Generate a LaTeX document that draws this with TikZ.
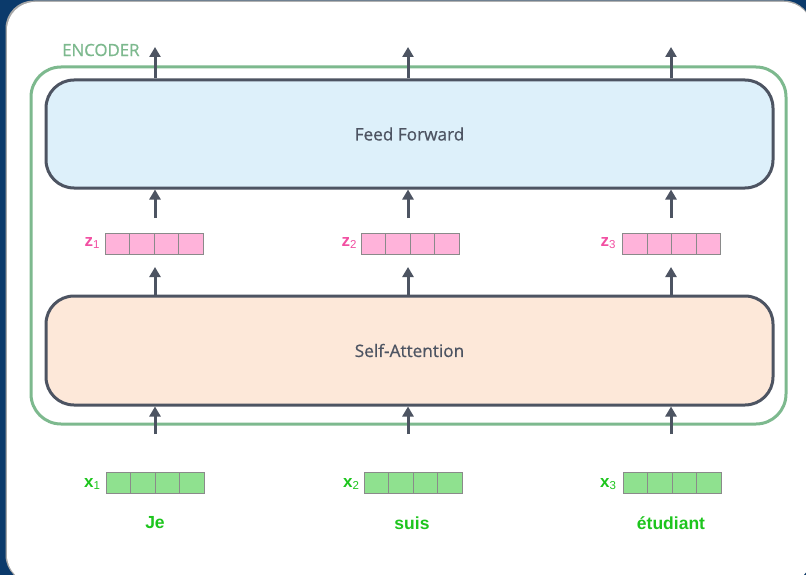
\documentclass[tikz,border=0pt]{standalone}
\usepackage{fontspec}
\setmainfont{Open Sans}
\newfontfamily\boxfont[FakeBold=0.7]{Open Sans}
\newfontfamily\labelfont{Liberation Sans}
\usetikzlibrary{arrows.meta}

\definecolor{frameblue}{HTML}{0B3A6B}
\definecolor{encgreen}{HTML}{7DB98E}
\definecolor{boxgray}{HTML}{4D5462}
\definecolor{ffblue}{HTML}{DDF0FA}
\definecolor{sapeach}{HTML}{FDE8D9}
\definecolor{zpink}{HTML}{FFB3DA}
\definecolor{ztext}{HTML}{F24FA2}
\definecolor{xgreen}{HTML}{8FE18F}
\definecolor{xtext}{HTML}{1DC51D}
\definecolor{cellline}{HTML}{8A8A8A}

\tikzset{
  bigbox/.style={draw=boxgray, line width=3pt, rounded corners=28pt,
    minimum width=727pt, inner sep=0pt, text=boxgray,
    font=\boxfont\fontsize{17.2}{20}\selectfont},
  cell/.style={draw=cellline, line width=0.8pt, minimum width=24.5pt,
    minimum height=21pt, inner sep=0pt, outer sep=0pt},
  zcell/.style={cell, fill=zpink},
  xcell/.style={cell, fill=xgreen},
  veclabel/.style={font=\labelfont\bfseries\fontsize{17}{17}\selectfont, inner sep=0pt},
  word/.style={text=xtext, font=\labelfont\bfseries\fontsize{17.5}{20}\selectfont, inner sep=0pt},
  arr/.style={draw=boxgray, line width=3pt,
    -{Triangle[length=10pt,width=11pt]}},
}
\newcommand{\vsub}[1]{\raisebox{-2.5pt}{\labelfont\mdseries\fontsize{11.5}{11.5}\selectfont #1}}

\begin{document}
\begin{tikzpicture}[x=1pt,y=-1pt]
  % page frame
  \fill[frameblue] (0,0) rectangle (806,575);
  \useasboundingbox (0,0) rectangle (806,575);
  \begin{scope}
    \clip (0,0) rectangle (806,575);
    \fill[gray!70, rounded corners=28pt] (5.5,0.5) rectangle (812,583);
    \fill[white, rounded corners=28pt] (7,2) rectangle (812,583);
  \end{scope}

  % encoder outline and its title
  \node[draw=encgreen, line width=3pt, rounded corners=30pt,
        minimum width=755pt, minimum height=357pt] (enc) at (408.5,245.5) {};
  \node[text=encgreen, font=\boxfont\fontsize{16.8}{18}\selectfont, anchor=west, inner sep=0pt]
        (enctitle) at (62,50) {ENCODER};

  % the two sub-layers
  \node[bigbox, fill=ffblue, minimum height=108pt] (ff) at (409.5,134) {Feed Forward};
  \node[bigbox, fill=sapeach, minimum height=109pt] (sa) at (409.5,350.5) {Self-Attention};

  % z vectors (self-attention outputs)
  \foreach \i/\cx/\lx in {1/154/92, 2/410/349, 3/671.5/608} {
    \foreach \k in {1,...,4} {
      \node[zcell] (z\i c\k) at ({\cx+(\k-2.5)*24.5},243.5) {};
    }
    \node[veclabel, text=ztext] (zl\i) at (\lx,243) {z\vsub{\i}};
  }

  % x vectors (embeddings) and their words
  \foreach \i/\cx/\lx in {1/155/92, 2/413/351, 3/672/608} {
    \foreach \k in {1,...,4} {
      \node[xcell] (x\i c\k) at ({\cx+(\k-2.5)*24.5},482.5) {};
    }
    \node[veclabel, text=xtext] (xl\i) at (\lx,484) {x\vsub{\i}};
  }
  \node[word] (w1) at (155,523) {Je};
  \node[word] (w2) at (412,523) {suis};
  \node[word] (w3) at (671,523) {étudiant};

  % free ends of the connectors
  \foreach \i/\c in {1/155, 2/408, 3/671} {
    \coordinate (out\i) at (\c,47);
    \coordinate (zin\i) at (\c,218);
    \coordinate (zout\i) at (\c,267);
    \coordinate (xin\i) at (\c,434);
  }

  % connectors
  \foreach \i in {1,2,3} {
    \draw[arr] (out\i |- ff.north) -- (out\i);
    \draw[arr] (zin\i) -- (zin\i |- ff.south);
    \draw[arr] (zout\i |- sa.north) -- (zout\i);
    \draw[arr] (xin\i) -- (xin\i |- sa.south);
  }
\end{tikzpicture}
\end{document}
